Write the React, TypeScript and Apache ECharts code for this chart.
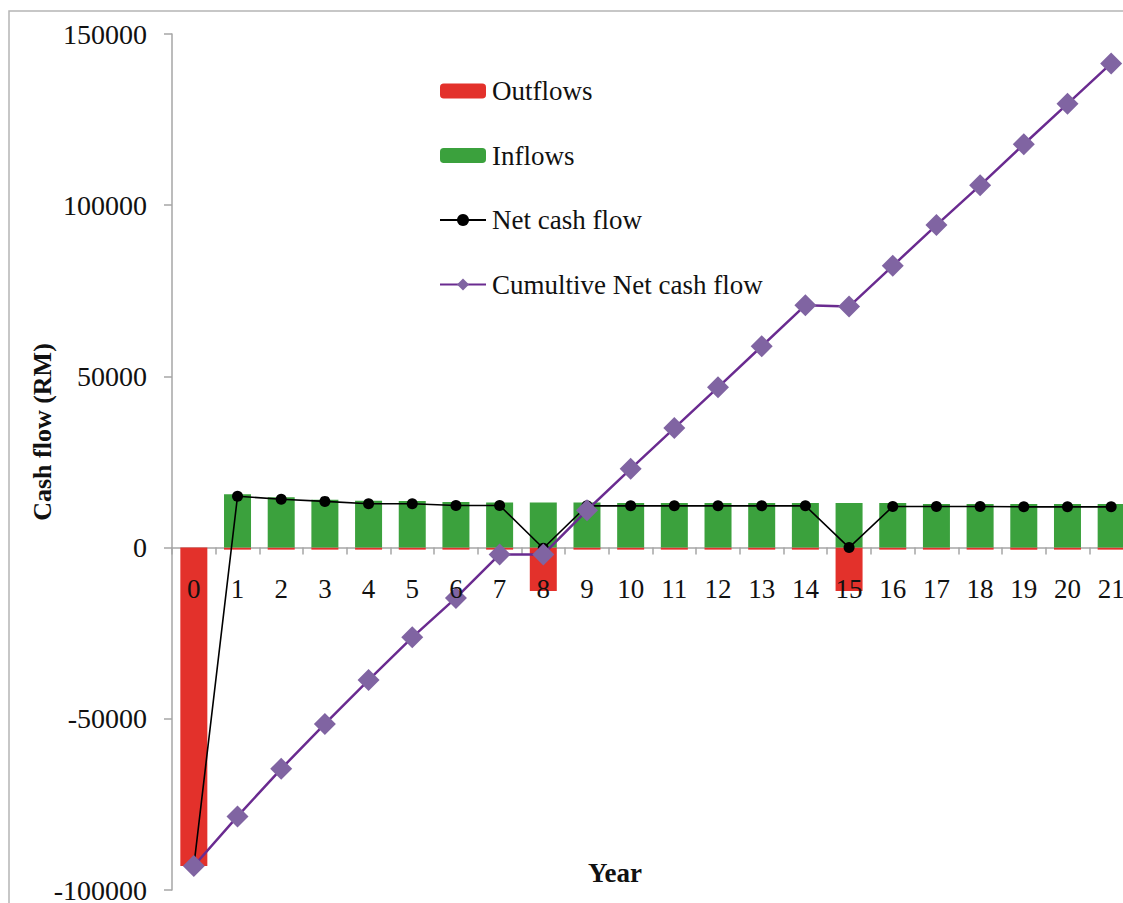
import React, { useEffect, useRef } from "react";
import * as echarts from "echarts";

const years = ["0","1","2","3","4","5","6","7","8","9","10","11","12","13","14","15","16","17","18","19","20","21"];
const outflows = [-93000,-600,-600,-600,-600,-600,-600,-600,-12700,-600,-600,-600,-600,-600,-600,-12700,-600,-600,-600,-600,-600,-600];
const inflows = [0,15600,14700,14000,13650,13600,13300,13200,13200,13200,13000,13000,13000,13000,13000,13000,13000,12700,12700,12700,12700,12700];
const netCashFlow = [-93000,15000,14100,13500,12800,12800,12300,12300,-200,12200,12200,12200,12200,12200,12200,0,12000,12000,12000,11900,11900,11900];
const cumulative = [-93000,-78500,-64600,-51500,-38700,-26200,-14700,-2000,-2000,10900,23000,34900,46800,58800,70800,70400,82300,94200,105800,117800,129600,141400];

const FONT = "'Liberation Serif', 'Times New Roman', serif";
const Y_MIN = -100000;
const Y_MAX = 150000;
const GRID_TOP = 34;
const GRID_H = 856;

export default function App() {
  const ref = useRef<HTMLDivElement>(null);
  useEffect(() => {
    if (!ref.current) return;
    const chart = echarts.init(ref.current, undefined, { renderer: "svg" });
    const zeroOffset = -(GRID_H * (0 - Y_MIN)) / (Y_MAX - Y_MIN);
    const labelStyle = {
      fontFamily: FONT,
      fontSize: 27,
      color: "#111",
      margin: 28,
      interval: 0,
      showMinLabel: true,
      showMaxLabel: true,
      hideOverlap: false,
    };
    chart.setOption({
      animation: false,
      backgroundColor: "#ffffff",
      grid: { left: 172, top: GRID_TOP, width: 961, height: GRID_H, containLabel: false, outerBoundsMode: "none" },
      legend: {
        orient: "vertical",
        left: 439,
        top: 77,
        padding: 0,
        itemWidth: 46,
        itemHeight: 15,
        itemGap: 36.5,
        textStyle: { fontFamily: FONT, fontSize: 27, color: "#111", lineHeight: 28, padding: [0, 0, 0, 1] },
        data: ["Outflows", "Inflows", "Net cash flow", "Cumultive Net cash flow"],
      },
      xAxis: [
        {
          type: "category",
          data: years,
          boundaryGap: true,
          position: "bottom",
          offset: zeroOffset,
          z: 0,
          axisLine: { onZero: false, lineStyle: { color: "#a6a6a6", width: 1.5 } },
          axisTick: { show: true, length: 7, lineStyle: { color: "#a6a6a6", width: 1.5 } },
          axisLabel: { ...labelStyle, show: false },
          splitLine: { show: false },
        },
        {
          type: "category",
          data: years,
          boundaryGap: true,
          position: "bottom",
          offset: zeroOffset,
          z: 10,
          axisLine: { show: false, onZero: false },
          axisTick: { show: false },
          axisLabel: labelStyle,
          splitLine: { show: false },
        },
      ],
      yAxis: {
        type: "value",
        min: Y_MIN,
        max: Y_MAX,
        interval: 50000,
        axisLine: { show: true, lineStyle: { color: "#a6a6a6", width: 1.5 } },
        axisTick: { show: true, length: 8, lineStyle: { color: "#a6a6a6", width: 1.5 } },
        axisLabel: {
          fontFamily: FONT,
          fontSize: 28,
          color: "#111",
          margin: 25,
          formatter: (v: number) => String(v),
        },
        splitLine: { show: false },
      },
      graphic: [
        {
          type: "rect",
          shape: { x: 9, y: 11, width: 1300, height: 1100 },
          style: { fill: "none", stroke: "#b5b5b5", lineWidth: 1.5 },
          silent: true,
        },
        {
          type: "text",
          x: 42,
          y: 432,
          rotation: Math.PI / 2,
          style: {
            text: "Cash flow (RM)",
            fontFamily: FONT,
            fontSize: 26,
            fontWeight: "bold",
            fill: "#111",
            align: "center",
            verticalAlign: "middle",
          },
        },
        {
          type: "text",
          x: 615,
          y: 873,
          style: {
            text: "Year",
            fontFamily: FONT,
            fontSize: 27,
            fontWeight: "bold",
            fill: "#111",
            align: "center",
            verticalAlign: "middle",
          },
        },
      ],
      series: [
        {
          name: "Outflows",
          type: "bar",
          xAxisIndex: 0,
          data: outflows,
          barWidth: 27,
          barGap: "-100%",
          itemStyle: { color: "#e3312b" },
          z: 2,
        },
        {
          name: "Inflows",
          type: "bar",
          xAxisIndex: 0,
          data: inflows,
          barWidth: 27,
          barGap: "-100%",
          itemStyle: { color: "#3ba13d" },
          z: 2,
        },
        {
          name: "Net cash flow",
          type: "line",
          xAxisIndex: 0,
          data: netCashFlow,
          symbol: "circle",
          symbolSize: 11,
          lineStyle: { color: "#000000", width: 1.6 },
          itemStyle: { color: "#000000" },
          z: 3,
        },
        {
          name: "Cumultive Net cash flow",
          type: "line",
          xAxisIndex: 0,
          data: cumulative,
          symbol: "diamond",
          symbolSize: 22,
          lineStyle: { color: "#6a2b90", width: 2.5 },
          itemStyle: { color: "#8064a2" },
          z: 4,
        },
      ],
    });
    return () => chart.dispose();
  }, []);
  return (
    <div
      ref={ref}
      style={{ position: "absolute", left: 0, top: 0, width: 1123, height: 903 }}
    />
  );
}
